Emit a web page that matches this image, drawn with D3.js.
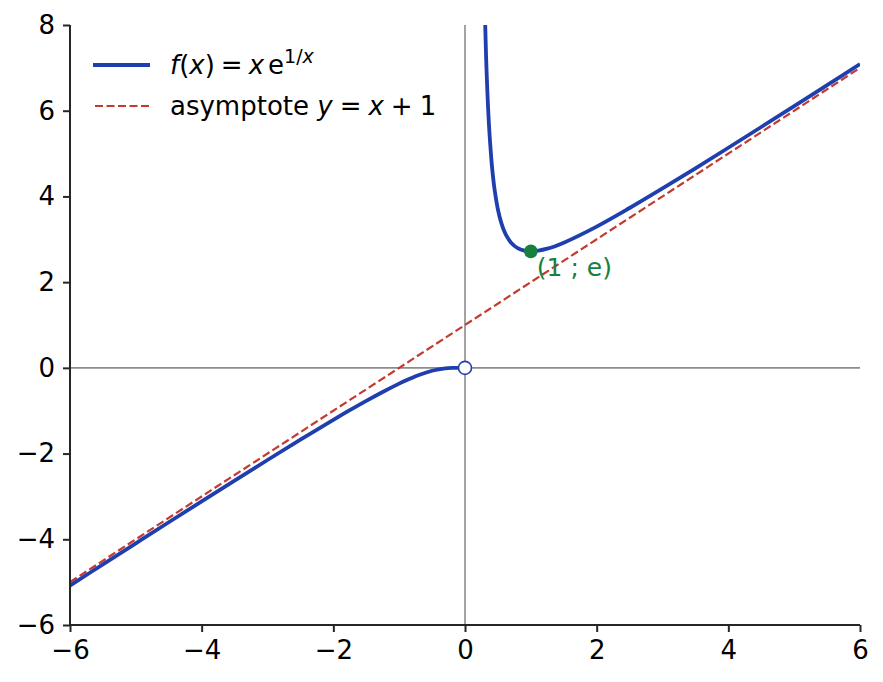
<!DOCTYPE html>
<html>
<head>
<meta charset="utf-8">
<script src="https://cdn.jsdelivr.net/npm/d3@7"></script>
<style>
  body { margin: 0; background: #fff; }
  svg text { font-family: "DejaVu Sans", sans-serif; }
</style>
</head>
<body>
<script>
// f(x) = x e^(1/x)
const xNeg = [-6, -5.5, -5, -4.5, -4, -3.5, -3, -2.5, -2, -1.75, -1.5, -1.25, -1, -0.9, -0.8, -0.7, -0.6, -0.5, -0.4, -0.3, -0.2, -0.1, 0];
const yNeg = [-5.079, -4.586, -4.094, -3.603, -3.115, -2.630, -2.150, -1.676, -1.213, -0.988, -0.770, -0.562, -0.368, -0.296, -0.229, -0.168, -0.113, -0.068, -0.033, -0.011, -0.001, 0, 0];

const xPos = [0.28, 0.3, 0.32, 0.33, 0.35, 0.37, 0.4, 0.42, 0.45, 0.5, 0.55, 0.6, 0.65, 0.7, 0.8, 0.9, 1, 1.25, 1.5, 2, 2.5, 3, 3.5, 4, 4.5, 5, 5.5, 6];
const yPos = [9.96, 8.41, 7.28, 6.83, 6.09, 5.52, 4.873, 4.542, 4.154, 3.695, 3.389, 3.176, 3.028, 2.921, 2.792, 2.734, 2.718, 2.782, 2.922, 3.297, 3.730, 4.187, 4.657, 5.136, 5.620, 6.107, 6.597, 7.088];

// asymptote y = x + 1
const asymX = [-6, 6];
const asymY = [-5, 7];

const minPoint = [1, 2.718];
const holePoint = [0, 0];

const xTicks = [-6, -4, -2, 0, 2, 4, 6];
const yTicks = [-6, -4, -2, 0, 2, 4, 6, 8];

const W = 883, H = 682;
const margin = { top: 25, right: 23, bottom: 57, left: 70 };

const blue = "#1f3fae";
const red = "#c43a2f";
const green = "#17803d";
const fs = 26;

const svg = d3.select("body").append("svg")
  .attr("width", W)
  .attr("height", H);

const x = d3.scaleLinear().domain([-6, 6]).range([margin.left, W - margin.right]);
const y = d3.scaleLinear().domain([-6, 8]).range([H - margin.bottom, margin.top]);

svg.append("clipPath").attr("id", "plot")
  .append("rect")
  .attr("x", margin.left).attr("y", margin.top)
  .attr("width", W - margin.left - margin.right)
  .attr("height", H - margin.top - margin.bottom);

const plot = svg.append("g").attr("clip-path", "url(#plot)");

// zero lines
plot.append("line")
  .attr("x1", x(-6)).attr("x2", x(6))
  .attr("y1", y(0)).attr("y2", y(0))
  .attr("stroke", "#8c8c8c").attr("stroke-width", 1.6);
plot.append("line")
  .attr("x1", x(0)).attr("x2", x(0))
  .attr("y1", y(-6)).attr("y2", y(8))
  .attr("stroke", "#8c8c8c").attr("stroke-width", 1.6);

const line = d3.line()
  .x(d => x(d[0]))
  .y(d => y(d[1]))
  .curve(d3.curveCatmullRom);

// asymptote
plot.append("path")
  .datum(d3.zip(asymX, asymY))
  .attr("fill", "none")
  .attr("stroke", red)
  .attr("stroke-width", 2.2)
  .attr("stroke-dasharray", "8,3.5")
  .attr("d", line);

// curve, two branches
plot.append("path")
  .datum(d3.zip(xNeg, yNeg))
  .attr("fill", "none")
  .attr("stroke", blue)
  .attr("stroke-width", 3.8)
  .attr("d", line);

plot.append("path")
  .datum(d3.zip(xPos, yPos))
  .attr("fill", "none")
  .attr("stroke", blue)
  .attr("stroke-width", 3.8)
  .attr("d", line);

// hole at origin
svg.append("circle")
  .attr("cx", x(holePoint[0])).attr("cy", y(holePoint[1]))
  .attr("r", 6.5)
  .attr("fill", "#fff")
  .attr("stroke", blue)
  .attr("stroke-width", 1.6);

// minimum (1 ; e)
svg.append("circle")
  .attr("cx", x(minPoint[0])).attr("cy", y(minPoint[1]))
  .attr("r", 6.8)
  .attr("fill", green);

svg.append("text")
  .attr("x", x(minPoint[0]) + 6)
  .attr("y", y(minPoint[1]) + 25)
  .attr("font-size", 25)
  .attr("fill", green)
  .text("(1 ; e)");

// axes
const xAxis = svg.append("g")
  .attr("transform", `translate(0,${y(-6)})`)
  .call(d3.axisBottom(x).tickValues(xTicks).tickSize(7).tickPadding(9).tickFormat(d3.format("")));

const yAxis = svg.append("g")
  .attr("transform", `translate(${x(-6)},0)`)
  .call(d3.axisLeft(y).tickValues(yTicks).tickSize(7).tickPadding(8).tickFormat(d3.format("")));

[xAxis, yAxis].forEach(g => {
  g.select(".domain").attr("stroke", "#262626").attr("stroke-width", 2);
  g.selectAll(".tick line").attr("stroke", "#262626").attr("stroke-width", 2);
  g.selectAll(".tick text")
    .attr("font-size", fs)
    .attr("font-family", "DejaVu Sans")
    .attr("fill", "#000");
});
xAxis.select(".domain").attr("d", `M${x(-6)},0H${x(6)}`);
yAxis.select(".domain").attr("d", `M0,${y(-6)}V${y(8)}`);

// legend
const legend = svg.append("g");

legend.append("line")
  .attr("x1", 93).attr("x2", 150)
  .attr("y1", 65).attr("y2", 65)
  .attr("stroke", blue).attr("stroke-width", 3.8);

legend.append("line")
  .attr("x1", 95).attr("x2", 150)
  .attr("y1", 106).attr("y2", 106)
  .attr("stroke", red).attr("stroke-width", 2.2)
  .attr("stroke-dasharray", "8,3.5");

const t1 = legend.append("text")
  .attr("x", 170).attr("y", 74)
  .attr("font-size", fs);
t1.append("tspan").attr("font-style", "italic").text("f");
t1.append("tspan").text("(");
t1.append("tspan").attr("font-style", "italic").text("x");
t1.append("tspan").text(")");
t1.append("tspan").attr("dx", 6).text("=");
t1.append("tspan").attr("dx", 6).attr("font-style", "italic").text("x");
t1.append("tspan").attr("dx", 4).text("e");
t1.append("tspan").attr("font-size", 19).attr("dy", -11).text("1/");
t1.append("tspan").attr("font-size", 19).attr("font-style", "italic").text("x");

const t2 = legend.append("text")
  .attr("x", 170).attr("y", 115)
  .attr("font-size", fs);
t2.append("tspan").text("asymptote ");
t2.append("tspan").attr("font-style", "italic").text("y");
t2.append("tspan").attr("dx", 7).text("=");
t2.append("tspan").attr("dx", 7).attr("font-style", "italic").text("x");
t2.append("tspan").attr("dx", 7).text("+");
t2.append("tspan").attr("dx", 7).text("1");
</script>
</body>
</html>
